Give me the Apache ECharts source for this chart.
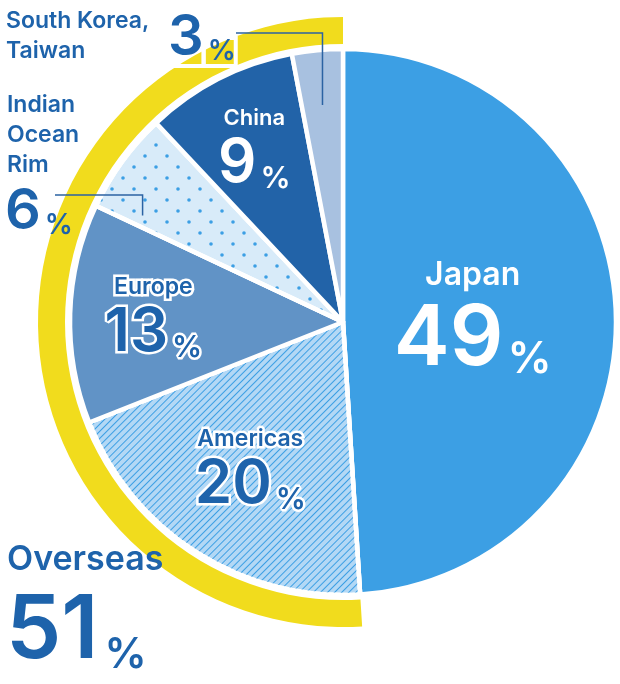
<!DOCTYPE html>
<html><head><meta charset="utf-8">
<script src="https://cdn.jsdelivr.net/npm/echarts@6/dist/echarts.min.js"></script>
<style>html,body{margin:0;padding:0;background:#fff}#c{width:620px;height:684px}</style>
</head><body><div id="c"></div>
<script>
// ---- data ----
const regions = ['Japan', 'Americas', 'Europe', 'Indian Ocean Rim', 'China', 'South Korea, Taiwan'];
const shares = [49, 20, 13, 6, 9, 3];
const regionLabels = ['Japan', 'Americas', 'Europe', 'Indian\nOcean\nRim', 'China', 'South Korea,\nTaiwan'];
const domesticName = 'Japan';
const overseasName = 'Overseas';

// ---- styling / layout ----
const CX = 343, CY = 322, R = 273;
const BLUE_TXT = '#1e63ab';
const FONT = 'Inter, "Noto Sans", sans-serif';
const fills = ['#3c9fe4', '#b3d8f5', '#6193c6', '#d8ebf9', '#2263a8', '#a8c1e0'];
const decals = [
  null,
  { symbol: 'rect', symbolSize: 1, dashArrayX: [1, 0], dashArrayY: [1, 4], rotation: -Math.PI / 4, color: '#3c9fe4' },
  null,
  { symbol: 'circle', symbolSize: 0.9, dashArrayX: [[4, 18], [0, 11, 4, 7]], dashArrayY: [4, 7], rotation: 0, color: '#3c9fe4' },
  null,
  null
];
const labelKinds = ['white', 'outline', 'outline', 'none', 'white', 'none'];
// [name size, number size, % size, name line height]
const labelSizes = [[32, 84, 44, 44], [23, 60, 30, 32], [23, 60, 30, 32], null, [22, 60, 30, 30], null];
const radialFactor = [0.93, 1.24, 1.36, 1, 1.40, 1];

function richFor(kind, s) {
  const base = kind === 'white'
    ? { color: '#fff' }
    : { color: BLUE_TXT, textBorderColor: '#fff', textBorderWidth: 5 };
  return {
    name: Object.assign({ fontFamily: FONT, fontWeight: 600, fontSize: s[0], lineHeight: s[3], align: 'center' }, base),
    num: Object.assign({ fontFamily: FONT, fontWeight: 600, fontSize: s[1], lineHeight: s[1], verticalAlign: 'bottom' }, base),
    pct: Object.assign({ fontFamily: FONT, fontWeight: 600, fontSize: s[2], lineHeight: s[2] * 0.9, verticalAlign: 'bottom', padding: [0, 0, 0, 4] }, base)
  };
}

const pieData = regions.map((name, i) => {
  const item = { name: name, value: shares[i], itemStyle: { color: fills[i] } };
  if (decals[i]) item.itemStyle.decal = decals[i];
  if (labelKinds[i] === 'none') {
    item.label = { show: false };
  } else {
    item.label = { show: true, rich: richFor(labelKinds[i], labelSizes[i]) };
  }
  return item;
});

const domesticValue = shares[regions.indexOf(domesticName)];
const overseasValue = shares.reduce((a, b) => a + b, 0) - domesticValue;

// angle helpers for leader lines (clockwise from top)
const total = shares.reduce((a, b) => a + b, 0);
function angleAt(idx, frac) {
  let acc = 0;
  for (let i = 0; i < idx; i++) acc += shares[i];
  return (acc + shares[idx] * frac) / total * 2 * Math.PI;
}
function polar(a, r) { return [CX + r * Math.sin(a), CY - r * Math.cos(a)]; }

const iIdx = regions.indexOf('Indian Ocean Rim');
const kIdx = regions.indexOf('South Korea, Taiwan');
const pI = polar(angleAt(iIdx, 0.13), 227);
const pK = polar(angleAt(kIdx, 0.5), 218);
const LINE = '#2b63a3';

function bigPct(numSize, pctSize, pctLH, gap, border) {
  const b = border ? { textBorderColor: '#fff', textBorderWidth: border } : {};
  return {
    num: Object.assign({ fontFamily: FONT, fontWeight: 600, fontSize: numSize, fill: BLUE_TXT, verticalAlign: 'bottom', lineHeight: numSize }, b),
    pct: Object.assign({ fontFamily: FONT, fontWeight: 600, fontSize: pctSize, fill: BLUE_TXT, verticalAlign: 'bottom', lineHeight: pctLH, padding: [0, 0, 0, gap] }, b)
  };
}

const chart = echarts.init(document.getElementById('c'), null, { renderer: 'canvas' });
chart.setOption({
  animation: false,
  backgroundColor: '#fff',
  series: [
    {
      type: 'pie',
      center: [CX, CY],
      radius: [278, 305],
      startAngle: 90,
      clockwise: true,
      silent: true,
      label: { show: false },
      labelLine: { show: false },
      data: [
        { name: domesticName, value: domesticValue, itemStyle: { color: 'rgba(0,0,0,0)' } },
        { name: overseasName, value: overseasValue, itemStyle: { color: '#f1dc1d' } }
      ]
    },
    {
      type: 'pie',
      center: [CX, CY],
      radius: [0, R],
      startAngle: 90,
      clockwise: true,
      silent: true,
      itemStyle: { borderColor: '#fff', borderWidth: 4.5 },
      label: {
        position: 'inside',
        rotate: 0,
        formatter: p => '{name|' + regionLabels[p.dataIndex] + '}\n{num|' + p.value + '}{pct|%}'
      },
      labelLine: { show: false },
      labelLayout: function (p) {
        const f = radialFactor[p.dataIndex];
        const lx = p.labelRect.x + p.labelRect.width / 2;
        const ly = p.labelRect.y + p.labelRect.height / 2;
        return { dx: (f - 1) * (lx - CX), dy: (f - 1) * (ly - CY) };
      },
      data: pieData
    }
  ],
  graphic: [
    { type: 'polyline', shape: { points: [[55, 195], [pI[0], 195], pI] }, style: { stroke: LINE, lineWidth: 1.5, fill: null }, z: 10 },
    { type: 'polyline', shape: { points: [[236, 33], [pK[0], 33], pK] }, style: { stroke: LINE, lineWidth: 1.5, fill: null }, z: 10 },
    { type: 'text', left: 7, top: 90, z: 10, style: { text: regionLabels[iIdx], fill: BLUE_TXT, font: '600 23px ' + FONT, lineHeight: 30 } },
    { type: 'text', left: 5, top: 184, z: 10, style: { text: '{num|' + shares[iIdx] + '}{pct|%}', rich: bigPct(56, 28, 26, 4, 0) } },
    { type: 'text', left: 6, top: 6, z: 10, style: { text: regionLabels[kIdx], fill: BLUE_TXT, font: '600 23px ' + FONT, lineHeight: 30 } },
    { type: 'text', left: 166, top: 8, z: 10, style: { text: '{num|' + shares[kIdx] + '}{pct|%}', rich: bigPct(56, 28, 26, 4, 4) } },
    { type: 'text', left: 7, top: 543, z: 10, style: { text: overseasName, fill: BLUE_TXT, font: '600 34px ' + FONT } },
    { type: 'text', left: 6, top: 588, z: 10, style: { text: '{num|' + overseasValue + '}{pct|%}', rich: bigPct(88, 42, 38, 6, 0) } }
  ]
});
</script>
</body></html>
